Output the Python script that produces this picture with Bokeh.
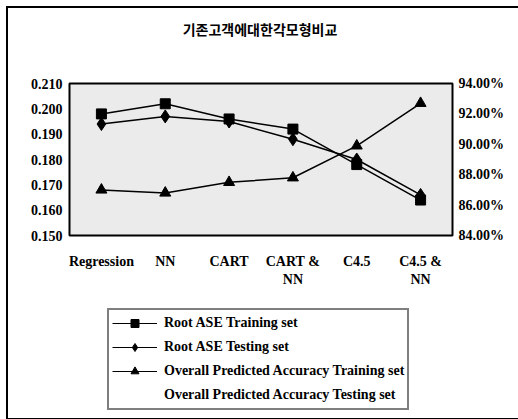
from bokeh.plotting import figure
from bokeh.models import Range1d, LinearAxis, FixedTicker, PrintfTickFormatter, Legend, Div
from bokeh.layouts import column
from bokeh.embed import file_html
from bokeh.resources import INLINE

categories = ["Regression", "NN", "CART", "CART &\nNN", "C4.5", "C4.5 &\nNN"]
ase_train = [0.198, 0.202, 0.196, 0.192, 0.178, 0.164]
ase_test = [0.194, 0.197, 0.195, 0.188, 0.180, 0.166]
acc_train = [87.0, 86.8, 87.5, 87.8, 89.9, 92.7]
acc_test = [float("nan")]
left_ticks = [0.150, 0.160, 0.170, 0.180, 0.190, 0.200, 0.210]
right_ticks = [84, 86, 88, 90, 92, 94]
title_text = "기존고객에대한각모형비교"
series_names = ["Root ASE Training set", "Root ASE Testing set",
                "Overall Predicted Accuracy Training set",
                "Overall Predicted Accuracy Testing set"]

FONT = "Liberation Serif"

title = Div(text=title_text, width=510, height=50, margin=0,
            styles={"text-align": "center", "padding-top": "11px", "padding-right": "6px",
                    "box-sizing": "border-box",
                    "font-family": "'Noto Sans CJK KR'", "font-size": "14px",
                    "font-weight": "bold", "color": "black", "line-height": "20px"})

p = figure(width=510, height=240, x_range=categories, y_range=Range1d(0.15, 0.21),
           output_backend="svg", toolbar_location=None, margin=0,
           min_border_left=61, min_border_right=66, min_border_top=25, min_border_bottom=63)
p.extra_y_ranges = {"acc": Range1d(84, 94)}
p.background_fill_color = "#ebebeb"
p.border_fill_color = "white"
p.outline_line_color = "black"
p.outline_line_width = 2
p.xgrid.visible = False
p.ygrid.visible = False

p.yaxis.ticker = FixedTicker(ticks=left_ticks)
p.yaxis.formatter = PrintfTickFormatter(format="%.3f")

ra = LinearAxis(y_range_name="acc", ticker=FixedTicker(ticks=right_ticks),
                formatter=PrintfTickFormatter(format="%.2f%%"))
p.add_layout(ra, "right")

for ax in [p.xaxis[0], p.yaxis[0], ra]:
    ax.axis_line_color = None
    ax.major_tick_line_color = None
    ax.minor_tick_line_color = None
    ax.major_tick_out = 0
    ax.minor_tick_out = 0
    ax.major_label_text_font = FONT
    ax.major_label_text_font_size = "14px"
    ax.major_label_text_font_style = "bold"
    ax.major_label_text_color = "black"
p.yaxis[0].major_label_standoff = 7
ra.major_label_standoff = 6
p.xaxis[0].major_label_standoff = 18

p.line(categories, ase_train, line_color="black", line_width=1.5)
p.scatter(categories, ase_train, marker="square", size=10, color="black")
p.line(categories, ase_test, line_color="black", line_width=1.5)
p.scatter(categories, ase_test, marker="diamond", size=13, color="black")
p.line(categories, acc_train, line_color="black", line_width=1.5, y_range_name="acc")
p.scatter(categories, acc_train, marker="triangle", size=11, color="black", y_range_name="acc")

# legend panel (separate canvas so it is not clipped by the plot frame)
q = figure(width=510, height=120, output_backend="svg", toolbar_location=None, margin=0,
           min_border=0, x_axis_type=None, y_axis_type=None,
           x_range=Range1d(0, 1), y_range=Range1d(0, 1))
q.outline_line_color = None
q.background_fill_color = "white"
q.border_fill_color = "white"
q.xgrid.visible = False
q.ygrid.visible = False
e = [float("nan")]
l1 = q.line(x=e, y=e, line_color="black", line_width=1.2)
s1 = q.scatter(x=e, y=e, marker="square", size=10, color="black")
l2 = q.line(x=e, y=e, line_color="black", line_width=1.2)
s2 = q.scatter(x=e, y=e, marker="diamond", size=13, color="black")
l3 = q.line(x=e, y=e, line_color="black", line_width=1.2)
s3 = q.scatter(x=e, y=e, marker="triangle", size=11, color="black")
l4 = q.line(x=acc_test, y=acc_test, line_alpha=0)

legend = Legend(items=[(series_names[0], [l1, s1]),
                       (series_names[1], [l2, s2]),
                       (series_names[2], [l3, s3]),
                       (series_names[3], [l4])],
                location=(38, 8), orientation="vertical",
                glyph_width=45, glyph_height=20, label_height=20, spacing=4,
                padding=3, margin=0, label_standoff=7,
                border_line_color="black", border_line_width=2,
                background_fill_color="white", background_fill_alpha=1,
                label_text_font=FONT, label_text_font_size="14px",
                label_text_font_style="bold", label_text_color="black")
q.add_layout(legend, "center")

page = column(title, p, q, spacing=0,
              styles={"border": "2px solid black", "margin-left": "6px", "margin-top": "6px",
                      "box-sizing": "content-box"})

open("out.html", "w").write(file_html(page, INLINE))
